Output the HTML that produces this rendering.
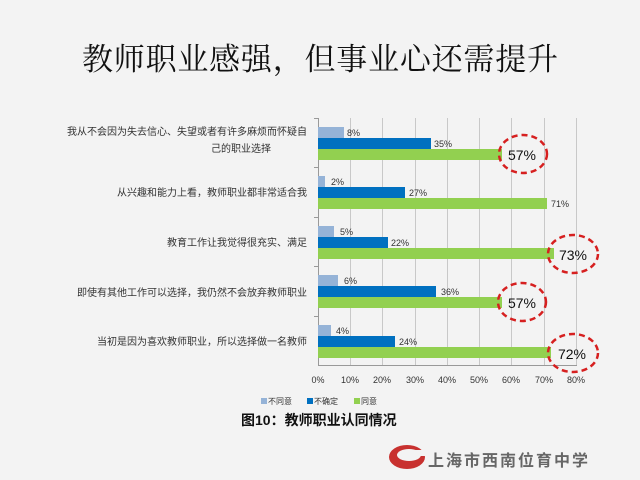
<!DOCTYPE html>
<html><head><meta charset="utf-8"><style>
body{margin:0;width:640px;height:480px;overflow:hidden;background:#f3f3f3;}
svg{display:block}
</style></head><body>
<svg width="640" height="480" xmlns="http://www.w3.org/2000/svg" font-family="Liberation Sans, Noto Sans CJK SC, sans-serif">
<rect width="640" height="480" fill="#f3f3f3"/>
<text x="320" y="70" text-anchor="middle" font-family="Liberation Serif, Noto Serif CJK SC, serif" font-size="31" fill="#111" textLength="476" lengthAdjust="spacing">教师职业感强，但事业心还需提升</text>
<g stroke="#c8c8c8" stroke-width="1">
<line x1="350.5" y1="118" x2="350.5" y2="365"/><line x1="382.5" y1="118" x2="382.5" y2="365"/>
<line x1="415.5" y1="118" x2="415.5" y2="365"/><line x1="447.5" y1="118" x2="447.5" y2="365"/>
<line x1="479.5" y1="118" x2="479.5" y2="365"/><line x1="511.5" y1="118" x2="511.5" y2="365"/>
<line x1="544.5" y1="118" x2="544.5" y2="365"/><line x1="576.5" y1="118" x2="576.5" y2="365"/>
</g>
<g stroke="#999" stroke-width="1">
<line x1="318.5" y1="118" x2="318.5" y2="366"/><line x1="318" y1="365.5" x2="577" y2="365.5"/>
<line x1="314" y1="118.5" x2="318" y2="118.5"/><line x1="314" y1="167.5" x2="318" y2="167.5"/>
<line x1="314" y1="217.5" x2="318" y2="217.5"/><line x1="314" y1="266.5" x2="318" y2="266.5"/>
<line x1="314" y1="316.5" x2="318" y2="316.5"/>
</g>
<g font-size="9" fill="#333">
<rect x="318" y="127" width="26" height="11" fill="#95b3d7"/><text x="347" y="136">8%</text>
<rect x="318" y="138" width="113" height="11" fill="#0070c0"/><text x="434" y="147">35%</text>
<rect x="318" y="149" width="184" height="11" fill="#92d050"/>
<rect x="318" y="176" width="7" height="11" fill="#95b3d7"/><text x="331" y="185">2%</text>
<rect x="318" y="187" width="87" height="11" fill="#0070c0"/><text x="409" y="196">27%</text>
<rect x="318" y="198" width="229" height="11" fill="#92d050"/><text x="551" y="207">71%</text>
<rect x="318" y="226" width="16" height="11" fill="#95b3d7"/><text x="340" y="235">5%</text>
<rect x="318" y="237" width="70" height="11" fill="#0070c0"/><text x="391" y="246">22%</text>
<rect x="318" y="248" width="236" height="11" fill="#92d050"/>
<rect x="318" y="275" width="20" height="11" fill="#95b3d7"/><text x="344" y="284">6%</text>
<rect x="318" y="286" width="118" height="11" fill="#0070c0"/><text x="441" y="295">36%</text>
<rect x="318" y="297" width="184" height="11" fill="#92d050"/>
<rect x="318" y="325" width="13" height="11" fill="#95b3d7"/><text x="336" y="334">4%</text>
<rect x="318" y="336" width="77" height="11" fill="#0070c0"/><text x="399" y="345">24%</text>
<rect x="318" y="347" width="233" height="11" fill="#92d050"/>
</g>
<g font-size="10" fill="#333" text-anchor="end">
<text x="307" y="135">我从不会因为失去信心、失望或者有许多麻烦而怀疑自</text>
<text x="271" y="152">己的职业选择</text>
<text x="307" y="196">从兴趣和能力上看，教师职业都非常适合我</text>
<text x="307" y="246">教育工作让我觉得很充实、满足</text>
<text x="307" y="296">即使有其他工作可以选择，我仍然不会放弃教师职业</text>
<text x="307" y="345">当初是因为喜欢教师职业，所以选择做一名教师</text>
</g>
<g fill="none" stroke="#d62020" stroke-width="2.5" stroke-dasharray="6,4">
<ellipse cx="523" cy="154" rx="24" ry="19"/>
<ellipse cx="573" cy="254" rx="25" ry="19"/>
<ellipse cx="522" cy="302" rx="24" ry="19"/>
<ellipse cx="573" cy="353" rx="25" ry="19"/>
</g>
<g font-size="14" fill="#111" text-anchor="middle">
<text x="522" y="160">57%</text><text x="573" y="260">73%</text>
<text x="522" y="308">57%</text><text x="572" y="359">72%</text>
</g>
<g font-size="9" fill="#333" text-anchor="middle">
<text x="318" y="383">0%</text><text x="350" y="383">10%</text><text x="382" y="383">20%</text>
<text x="415" y="383">30%</text><text x="447" y="383">40%</text><text x="479" y="383">50%</text>
<text x="511" y="383">60%</text><text x="544" y="383">70%</text><text x="576" y="383">80%</text>
</g>
<g font-size="8" fill="#333">
<rect x="261" y="398" width="6" height="6" fill="#95b3d7"/><text x="268" y="404">不同意</text>
<rect x="307" y="398" width="6" height="6" fill="#0070c0"/><text x="314" y="404">不确定</text>
<rect x="354" y="398" width="6" height="6" fill="#92d050"/><text x="361" y="404">同意</text>
</g>
<text x="241" y="425" font-size="14" font-weight="bold" fill="#111">图10：教师职业认同情况</text>
<g transform="translate(407,460)">
<ellipse cx="0" cy="-3" rx="18" ry="12" fill="#c8312f"/>
<ellipse cx="2" cy="-5" rx="12" ry="6" fill="#f3f3f3"/>
<rect x="-4" y="-10" width="26" height="6" fill="#f3f3f3"/>
</g>
<text x="428" y="466" font-size="16" font-weight="bold" fill="#666" letter-spacing="2">上海市西南位育中学</text>
</svg>
</body></html>
